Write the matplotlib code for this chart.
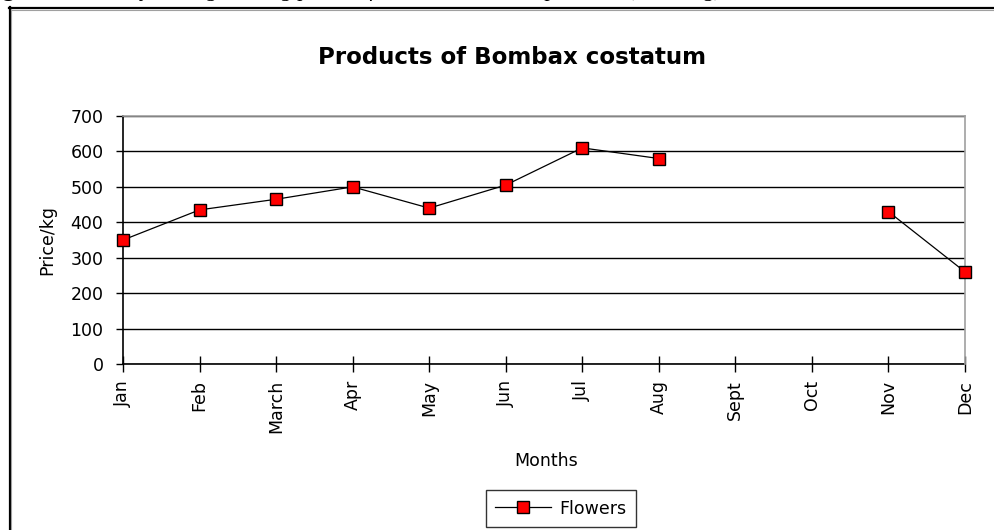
import numpy as np
import matplotlib.pyplot as plt
from matplotlib.lines import Line2D

# Monthly price of flowers (price per kg); no sales recorded in Sept and Oct
months = ["Jan", "Feb", "March", "Apr", "May", "Jun", "Jul", "Aug", "Sept", "Oct", "Nov", "Dec"]
flower_price = [350, 435, 465, 500, 440, 505, 610, 580, np.nan, np.nan, 430, 260]
y_ticks = [0, 100, 200, 300, 400, 500, 600, 700]

W, H = 995, 530
fig = plt.figure(figsize=(W / 100, H / 100), dpi=100)
fig.patch.set_facecolor("white")

# caption of the figure, mostly cut off at the top edge
fig.text(-0.017, 1 + 4 / H, "Figure 8:", fontsize=16, fontweight="bold",
         family="Liberation Serif", va="baseline", ha="left")
fig.text(0.078, 1 + 4 / H,
         "Monthly average selling prices of Bombax costatum products (FCFA/kg)",
         fontsize=16, style="italic", family="Liberation Serif", va="baseline", ha="left")

# chart object frame (only top and left edges visible)
def px(x, y):
    return x / W, 1 - y / H

for (x0, y0), (x1, y1), c, lw in [
    ((9, 7.5), (W, 7.5), "black", 1.6),
    ((9.5, 7), (9.5, H), "black", 1.6),
    ((11, 9.5), (W, 9.5), "#a0a0a0", 0.8),
    ((11.5, 9), (11.5, H), "#a0a0a0", 0.8),
]:
    a, b = px(x0, y0)
    c2, d = px(x1, y1)
    fig.add_artist(Line2D([a, c2], [b, d], color=c, lw=lw, transform=fig.transFigure))

left, right, top, bottom = 123, 965, 116, 364
ax = fig.add_axes([left / W, 1 - bottom / H, (right - left) / W, (bottom - top) / H])

x = np.arange(len(months))
ax.plot(x, flower_price, color="black", lw=0.9, marker="s", markersize=8,
        markerfacecolor="#ff0000", markeredgecolor="black", markeredgewidth=1,
        label="Flowers", clip_on=False, zorder=3)

ax.set_xlim(0, len(months) - 1)
ax.set_ylim(0, 700)
ax.set_yticks(y_ticks)
ax.set_xticks(x)
ax.set_xticklabels(months, rotation=90, fontsize=12.5, va="top", ha="center")
ax.tick_params(axis="y", direction="out", length=5, width=1, labelsize=12.5, pad=9)
ax.tick_params(axis="x", direction="inout", length=11, width=1, pad=6)

ax.yaxis.grid(True, color="black", lw=1)
ax.set_axisbelow(True)
for side in ["top", "right"]:
    ax.spines[side].set_color("#a0a0a0")
    ax.spines[side].set_linewidth(1.2)
    ax.spines[side].set_zorder(2.6)
for side in ["left", "bottom"]:
    ax.spines[side].set_color("black")
    ax.spines[side].set_linewidth(1.2)

fig.text(512 / W, 1 - 58 / H, "Products of Bombax costatum", fontsize=16.5,
         fontweight="bold", ha="center", va="center")
ax.set_ylabel("Price/kg", fontsize=12.5)
ax.yaxis.set_label_coords((56 - left) / (right - left), 0.5)
ax.set_xlabel("Months", fontsize=12.5)
ax.xaxis.set_label_coords((546 - left) / (right - left), (bottom - 452) / (bottom - top))

leg = fig.legend(loc="center", bbox_to_anchor=(561 / W, 1 - 508.5 / H), fontsize=12.5,
                 frameon=True, fancybox=False, edgecolor="black", handlelength=3.2,
                 borderpad=0.55, handletextpad=0.5)
leg.get_frame().set_linewidth(1)

fig.savefig("out.png", dpi=100)
